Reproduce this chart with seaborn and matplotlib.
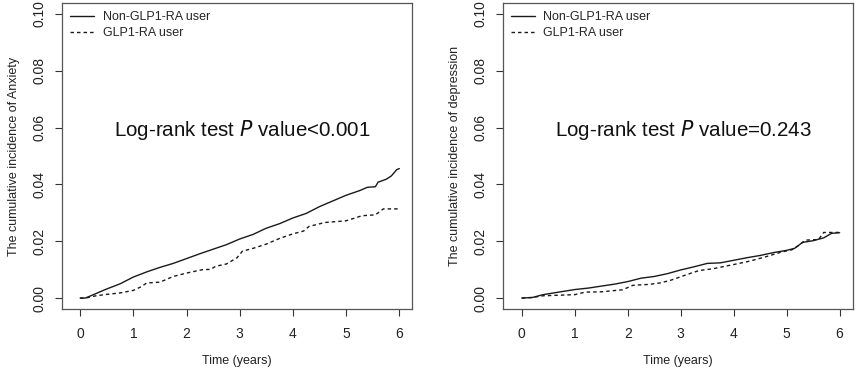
import numpy as np
import pandas as pd
import matplotlib
matplotlib.use("Agg")
import matplotlib.pyplot as plt
import matplotlib.transforms as mtransforms
import seaborn as sns

# ---- data (cumulative incidence curves) ----
anx_t_non = [0.0, 0.1, 0.25, 0.5, 0.75, 1.0, 1.25, 1.5, 1.75, 2.0, 2.25, 2.5, 2.75, 3.0, 3.25,
             3.5, 3.75, 4.0, 4.25, 4.5, 4.75, 5.0, 5.25, 5.4, 5.55, 5.6, 5.75, 5.85, 5.95, 6.0]
anx_y_non = [0.0, 0.0, 0.0012, 0.0032, 0.0050, 0.0074, 0.0092, 0.0108, 0.0122, 0.0139, 0.0156,
             0.0172, 0.0188, 0.0208, 0.0224, 0.0246, 0.0262, 0.0282, 0.0298, 0.0322, 0.0342,
             0.0362, 0.0378, 0.0390, 0.0392, 0.0408, 0.0418, 0.0430, 0.0452, 0.0456]
anx_t_glp = [0.0, 0.1, 0.3, 0.5, 0.75, 1.0, 1.15, 1.25, 1.5, 1.75, 2.0, 2.3, 2.45, 2.55, 2.75,
             2.95, 3.05, 3.25, 3.5, 3.75, 4.0, 4.2, 4.3, 4.6, 5.0, 5.3, 5.55, 5.7, 6.0]
anx_y_glp = [0.0, 0.0, 0.0008, 0.0013, 0.0018, 0.0027, 0.0040, 0.0053, 0.0056, 0.0076, 0.0088,
             0.0100, 0.0101, 0.0112, 0.0120, 0.0142, 0.0165, 0.0175, 0.0190, 0.0210, 0.0226,
             0.0236, 0.0252, 0.0266, 0.0272, 0.0290, 0.0293, 0.0314, 0.0314]

dep_t_non = [0.0, 0.2, 0.4, 0.6, 0.8, 1.0, 1.25, 1.5, 1.75, 2.0, 2.25, 2.5, 2.75, 3.0, 3.25,
             3.5, 3.75, 4.0, 4.25, 4.5, 4.75, 5.0, 5.15, 5.3, 5.5, 5.7, 5.85, 6.0]
dep_y_non = [0.0, 0.0002, 0.0012, 0.0018, 0.0024, 0.0030, 0.0035, 0.0042, 0.0049, 0.0058,
             0.0070, 0.0076, 0.0086, 0.0099, 0.0110, 0.0122, 0.0124, 0.0133, 0.0142, 0.0150,
             0.0160, 0.0168, 0.0175, 0.0196, 0.0202, 0.0212, 0.0228, 0.0230]
dep_t_glp = [0.0, 0.2, 0.4, 0.7, 1.0, 1.2, 1.5, 1.9, 2.1, 2.4, 2.6, 2.8, 3.0, 3.2, 3.35, 3.6,
             4.0, 4.3, 4.6, 4.9, 5.1, 5.25, 5.35, 5.6, 5.7, 6.0]
dep_y_glp = [0.0, 0.0002, 0.0008, 0.0010, 0.0012, 0.0021, 0.0022, 0.0029, 0.0045, 0.0048,
             0.0053, 0.0062, 0.0075, 0.0088, 0.0097, 0.0103, 0.0118, 0.0130, 0.0145, 0.0162,
             0.0170, 0.0188, 0.0204, 0.0206, 0.0231, 0.0231]

groups = ["Non-GLP1-RA user", "GLP1-RA user"]
x_ticks = [0, 1, 2, 3, 4, 5, 6]
y_ticks = [0.00, 0.02, 0.04, 0.06, 0.08, 0.10]
panel_ylabels = ["The cumulative incidence of Anxiety", "The cumulative incidence of depression"]
panel_texts = ["value<0.001", "value=0.243"]

sns.set_theme(style="white")
plt.rcParams["font.family"] = ["Liberation Sans", "DejaVu Sans"]

fig = plt.figure(figsize=(8.58, 3.72), dpi=100)
ax1 = fig.add_axes([0.0723, 0.169, 0.408, 0.823])
ax2 = fig.add_axes([0.586, 0.169, 0.408, 0.823])

panels = [
    (ax1, anx_t_non, anx_y_non, anx_t_glp, anx_y_glp, (-0.34, 6.24)),
    (ax2, dep_t_non, dep_y_non, dep_t_glp, dep_y_glp, (-0.36, 6.25)),
]

for i, (ax, tn, yn, tg, yg, xl) in enumerate(panels):
    df = pd.concat([
        pd.DataFrame({"t": tn, "y": yn, "g": groups[0]}),
        pd.DataFrame({"t": tg, "y": yg, "g": groups[1]}),
    ], ignore_index=True)
    sns.lineplot(data=df, x="t", y="y", style="g", style_order=groups,
                 dashes={groups[0]: "", groups[1]: (2.5, 2.2)},
                 color="#1a1a1a", linewidth=1.0,
                 estimator=None, sort=False, ax=ax, legend=True)
    ax.set_xlim(*xl)
    ax.set_ylim(-0.0039, 0.1039)
    ax.set_xticks(x_ticks)
    ax.set_xticklabels([str(v) for v in x_ticks], fontsize=10)
    ax.set_yticks(y_ticks)
    ax.set_yticklabels([f"{v:.2f}" for v in y_ticks], fontsize=10, rotation=90, va="center")
    ax.tick_params(axis="both", direction="out", length=5, width=0.8, color="#333333",
                   bottom=True, left=True, labelcolor="#222222")
    ax.tick_params(axis="x", pad=8)
    ax.tick_params(axis="y", pad=6)
    for s in ax.spines.values():
        s.set_visible(True)
        s.set_color("#555555")
        s.set_linewidth(0.9)
    ax.set_xlabel("Time (years)", fontsize=9, color="#222222", labelpad=10)
    ax.set_ylabel(panel_ylabels[i], fontsize=9, color="#222222", labelpad=9)
    ax.text(0.515, 0.059, r"Log-rank test $\it{P}$ " + panel_texts[i],
            transform=mtransforms.blended_transform_factory(ax.transAxes, ax.transData),
            fontsize=14.8, ha="center", va="center", color="#111111")
    leg = ax.legend(loc="upper left", frameon=False, fontsize=9, handlelength=1.9,
                    handletextpad=0.7, borderaxespad=0.35, borderpad=0.3, labelspacing=0.35)
    for h in leg.get_lines():
        h.set_color("#1a1a1a")
        h.set_linewidth(1.0)

fig.savefig("out.png", dpi=100)
